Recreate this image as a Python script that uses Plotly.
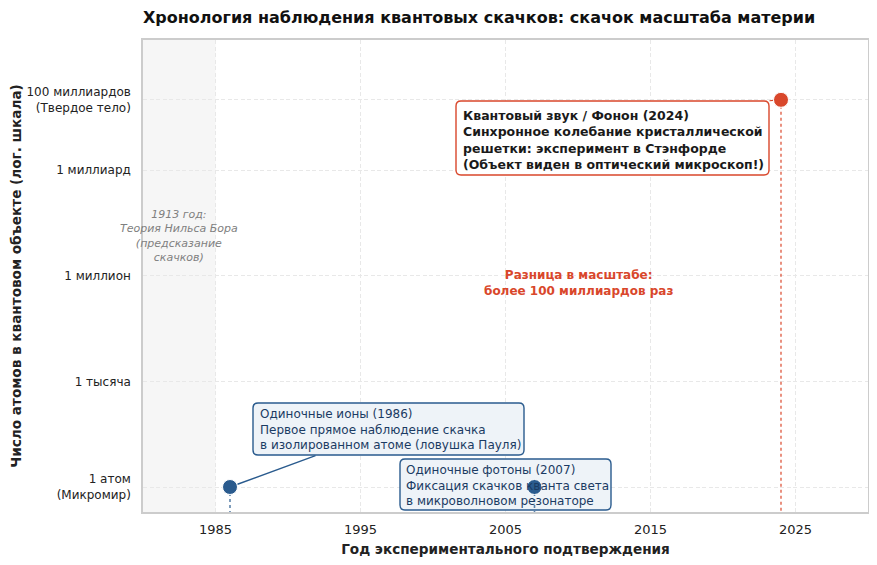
import plotly.graph_objects as go

# ---- data ----
years = [1986, 2007, 2024]
atoms = [1, 1, 1e11]
point_colors = ["#2a5b8e", "#2a5b8e", "#d9472b"]
line_colors = ["rgba(42,91,142,0.75)", "rgba(42,91,142,0.75)", "rgba(217,71,43,0.75)"]

x_tickvals = [1985, 1995, 2005, 2015, 2025]
y_tickvals = [1, 1e3, 1e6, 1e9, 1e11]
y_ticktext = ["1 атом<br>(Микромир)", "1 тысяча", "1 миллион", "1 миллиард",
              "100 миллиардов<br>(Твердое тело)"]

bohr_span = [1980, 1985]

box_texts = [
    "Одиночные ионы (1986)<br>Первое прямое наблюдение скачка<br>в изолированном атоме (ловушка Пауля)",
    "Одиночные фотоны (2007)<br>Фиксация скачков кванта света<br>в микроволновом резонаторе",
    "<b>Квантовый звук / Фонон (2024)<br>Синхронное колебание кристаллической<br>решетки: эксперимент в Стэнфорде<br>(Объект виден в оптический микроскоп!)</b>",
]

FONT = "DejaVu Sans"
X_RANGE = [1980, 2030]
Y_RANGE = [-0.71, 12.7]
OFF = 8                      # page offset of the plot div
W, H = 869, 557
ML, MR, MT, MB = 135, 9, 32, 53
PL, PR, PT, PB = ML + OFF, OFF + W - MR, MT + OFF, OFF + H - MB
PW, PH = PR - PL, PB - PT


def px2data(X, Y):
    x = X_RANGE[0] + (X - PL) / PW * (X_RANGE[1] - X_RANGE[0])
    ly = Y_RANGE[1] - (Y - PT) / PH * (Y_RANGE[1] - Y_RANGE[0])
    return x, ly


def px2dom(X, Y):
    return (X - PL) / PW, (PB - Y) / PH


def rounded_box(X0, Y0, X1, Y1, r=5):
    def P(X, Y):
        x, ly = px2data(X, Y)
        return f"{x:.5f},{10 ** ly:.6g}"
    return (f"M {P(X0 + r, Y1)} L {P(X1 - r, Y1)} Q {P(X1, Y1)} {P(X1, Y1 - r)} "
            f"L {P(X1, Y0 + r)} Q {P(X1, Y0)} {P(X1 - r, Y0)} L {P(X0 + r, Y0)} "
            f"Q {P(X0, Y0)} {P(X0, Y0 + r)} L {P(X0, Y1 - r)} Q {P(X0, Y1)} {P(X0 + r, Y1)} Z")


fig = go.Figure()

# dotted drop lines
for yr, v, c in zip(years, atoms, line_colors):
    fig.add_trace(go.Scatter(x=[yr, yr], y=[v, 10 ** Y_RANGE[0]], mode="lines",
                             line=dict(color=c, width=1.6, dash="dot"),
                             hoverinfo="skip", showlegend=False))

# points
fig.add_trace(go.Scatter(x=years, y=atoms, mode="markers",
                         marker=dict(size=15, color=point_colors,
                                     line=dict(color="white", width=1)),
                         showlegend=False))

# shaded Bohr region
fig.add_shape(type="rect", xref="x", yref="y domain", x0=bohr_span[0], x1=bohr_span[1],
              y0=0, y1=1, fillcolor="#f6f6f6", line=dict(width=0), layer="below")

# boxes
boxes = [
    dict(px=(253, 403, 524, 455), fill="#eef3f8", border="#2a5b8e"),
    dict(px=(400, 459, 611, 510), fill="#eef3f8", border="#2a5b8e"),
    dict(px=(456, 101, 769, 175), fill="#ffffff", border="#d9472b"),
]
for b in boxes:
    fig.add_shape(type="path", xref="x", yref="y",
                  path=rounded_box(*b["px"]), fillcolor=b["fill"],
                  line=dict(color=b["border"], width=1.4), layer="between")

text_pos = [(258, 405), (404, 461), (461, 106)]
text_cols = ["#1b3b63", "#1b3b63", "#1a1a1a"]
text_sizes = [12, 12, 12.5]
for t, (X, Y), c, s in zip(box_texts, text_pos, text_cols, text_sizes):
    xd, yd = px2dom(X, Y)
    fig.add_annotation(text=t, xref="x domain", yref="y domain", x=xd, y=yd,
                       xanchor="left", yanchor="top", align="left", showarrow=False,
                       font=dict(family=FONT, size=s, color=c))

# connectors
fig.add_annotation(x=years[0], y=0, xref="x", yref="y", ax=87, ay=-32, text="",
                   showarrow=True, arrowhead=0, arrowwidth=1.4, arrowcolor="#2a5b8e",
                   standoff=8)
fig.add_annotation(x=years[2], y=11, xref="x", yref="y", ax=-13, ay=1, text="",
                   showarrow=True, arrowhead=0, arrowwidth=1.2, arrowcolor="#d9472b",
                   standoff=8)

# free texts
fig.add_annotation(text="<i>1913 год:<br>Теория Нильса Бора<br>(предсказание<br>скачков)</i>",
                   x=1982.5, y=7.12, xref="x", yref="y", showarrow=False,
                   font=dict(family=FONT, size=11, color="#808080"), align="center")
fig.add_annotation(text="<b>Разница в масштабе:<br>более 100 миллиардов раз</b>",
                   x=2010, y=5.8, xref="x", yref="y", showarrow=False,
                   font=dict(family=FONT, size=12, color="#d9472b"), align="center")

fig.update_layout(
    width=W, height=H,
    margin=dict(l=ML, r=MR, t=MT, b=MB, autoexpand=False),
    paper_bgcolor="white", plot_bgcolor="white",
    font=dict(family=FONT, size=12, color="#333333"),
    title=dict(text="<b>Хронология наблюдения квантовых скачков: скачок масштаба материи</b>",
               x=0, xref="paper", xanchor="left", y=1 - (17 - OFF) / H, yref="container",
               yanchor="middle", font=dict(family=FONT, size=16, color="#111111")),
    showlegend=False,
)
GRID = dict(showgrid=True, gridcolor="#e8e8e8", griddash="4px,2.5px", gridwidth=1,
            showline=True, mirror=True, linecolor="#cccccc", linewidth=1.5,
            zeroline=False, automargin=False)
fig.update_xaxes(range=X_RANGE, tickvals=x_tickvals, **GRID,
                 ticks="outside", ticklen=5, tickcolor="rgba(0,0,0,0)",
                 tickfont=dict(size=13, color="#222222"),
                 title=dict(text="<b>Год экспериментального подтверждения</b>",
                            font=dict(size=13.6, color="#222222"), standoff=8))
fig.update_yaxes(type="log", range=Y_RANGE, tickvals=y_tickvals, ticktext=y_ticktext,
                 **GRID, ticks="outside", ticklen=8, tickcolor="rgba(0,0,0,0)",
                 tickfont=dict(size=12, color="#222222"),
                 title=dict(text="<b>Число атомов в квантовом объекте (лог. шкала)</b>",
                            font=dict(size=13.6, color="#222222"), standoff=6))

fig.write_html("out.html")
